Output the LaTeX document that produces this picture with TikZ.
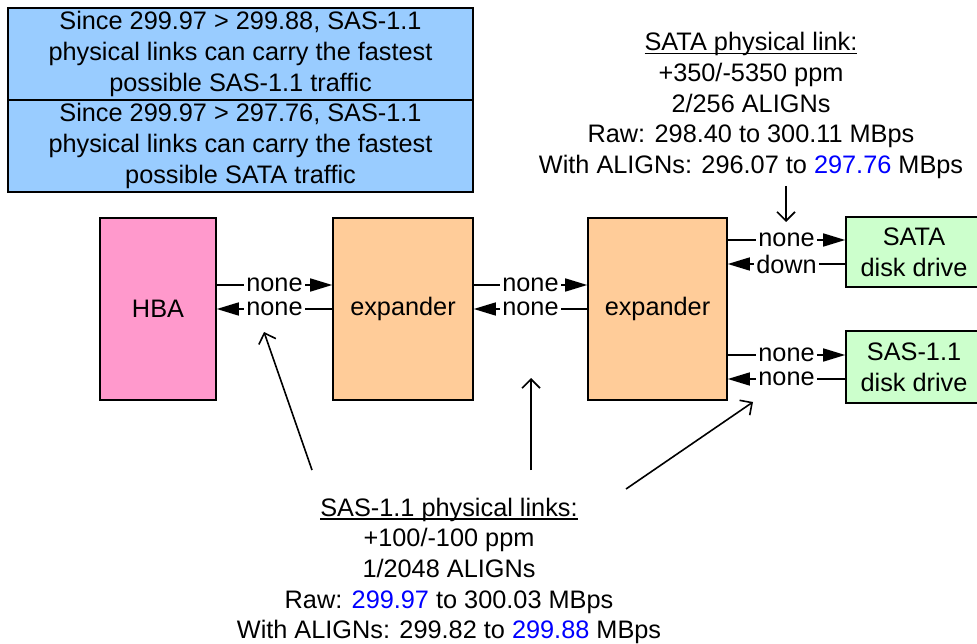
\documentclass[tikz,border=0pt]{standalone}
\usepackage{fontspec}
\setmainfont{Liberation Sans}
\usepackage{xcolor}
\usetikzlibrary{arrows}
\usetikzlibrary{calc,arrows.meta}

\definecolor{notebl}{HTML}{99CCFF}
\definecolor{hbapink}{HTML}{FF99CC}
\definecolor{exporange}{HTML}{FFCC99}
\definecolor{drivegrn}{HTML}{CCFFCC}
\newcommand{\ulx}[1]{\setbox0\hbox{#1}\rlap{\vrule width\wd0 height -2pt depth 3.3pt}\box0}

\begin{document}
\begin{tikzpicture}[x=1pt,y=-1pt,
    every node/.style={font=\fontsize{25.3}{30.6}\selectfont, inner sep=0pt, align=center},
    blk/.style={draw, line width=1.6pt},
    lbl/.style={fill=white, inner xsep=2pt, inner ysep=0pt},
    link/.style={line width=1.6pt, -{Triangle[length=22pt,width=13pt]}},
    linkback/.style={line width=1.6pt, {Triangle[length=22pt,width=13pt]}-},
    ptr/.style={line width=1.6pt, -{Straight Barb[length=9pt,width=18pt]}}]
				\useasboundingbox (0,0) rectangle (977,644);
				\clip (0,0) rectangle (977,644);
				% notes
				\node[blk,fill=notebl,minimum width=465pt,minimum height=92pt] (fastsas) at (240.5,54) {Since 299.97 > 299.88, SAS-1.1\\physical links can carry the fastest\\possible SAS-1.1 traffic};
				\node[blk,fill=notebl,minimum width=465pt,minimum height=92pt] (fastsata) at (240.5,146) {Since 299.97 > 297.76, SAS-1.1\\physical links can carry the fastest\\possible SATA traffic};
				% boxes
				\node[blk,fill=hbapink,minimum width=116pt,minimum height=182pt] (hba) at (158,309) {HBA};
				\node[blk,fill=exporange,minimum width=140pt,minimum height=182pt] (exp1) at (403,309) {expander};
				\node[blk,fill=exporange,minimum width=139pt,minimum height=182pt] (exp2) at (657.5,309) {expander};
				\node[blk,fill=drivegrn,minimum width=136pt,minimum height=70pt] (sata) at (914,252) {SATA\\disk drive};
				\node[blk,fill=drivegrn,minimum width=136pt,minimum height=72pt] (sas) at (914,367) {SAS-1.1\\disk drive};
				% link texts
				\node (satainfo) at (751,105.5) {\ulx{SATA physical link:}\\+350/-5350 ppm\\2/256 ALIGNs\\Raw: 298.40 to 300.11 MBps\\With ALIGNs: 296.07 to \textcolor{blue}{297.76} MBps};
				\node (sasinfo) at (449,571) {\ulx{SAS-1.1 physical links:}\\+100/-100 ppm\\1/2048 ALIGNs\\Raw: \textcolor{blue}{299.97} to 300.03 MBps\\With ALIGNs: 299.82 to \textcolor{blue}{299.88} MBps};
				\coordinate (sataTx) at ([yshift=12pt]sata.west);
				\coordinate (sataRx) at ([yshift=-12pt]sata.west);
				\coordinate (sasTx) at ([yshift=12pt]sas.west);
				\coordinate (sasRx) at ([yshift=-12pt]sas.west);
				\coordinate (sataTail) at (786,186);
				\coordinate (sataTip) at (786,222);
				\coordinate (tailA) at (312,470);
				\coordinate (tipA) at (264,332);
				\coordinate (tailB) at (531,470);
				\coordinate (tipB) at (531,378);
				\coordinate (tailC) at (626,489);
				\coordinate (tipC) at (753,402);
				% links
				\draw[link] ([yshift=24pt]hba.east)--node[lbl]{none}([yshift=24pt]exp1.west);
				\draw[linkback] (hba.east)--node[lbl]{none}(exp1.west);
				\draw[link] ([yshift=24pt]exp1.east)--node[lbl]{none}([yshift=24pt]exp2.west);
				\draw[linkback] (exp1.east)--node[lbl]{none}(exp2.west);
				\draw[link] (exp2.east |- sataTx)--node[lbl]{none}(sataTx);
				\draw[linkback] (exp2.east |- sataRx)--node[lbl]{down}(sataRx);
				\draw[link] (exp2.east |- sasTx)--node[lbl]{none}(sasTx);
				\draw[linkback] (exp2.east |- sasRx)--node[lbl]{none}(sasRx);
				% pointers
				\draw[ptr] (sataTail)--(sataTip);
				\draw[ptr] (tailA)--(tipA);
				\draw[ptr] (tailB)--(tipB);
				\draw[ptr] (tailC)--(tipC);
\end{tikzpicture}
\end{document}
